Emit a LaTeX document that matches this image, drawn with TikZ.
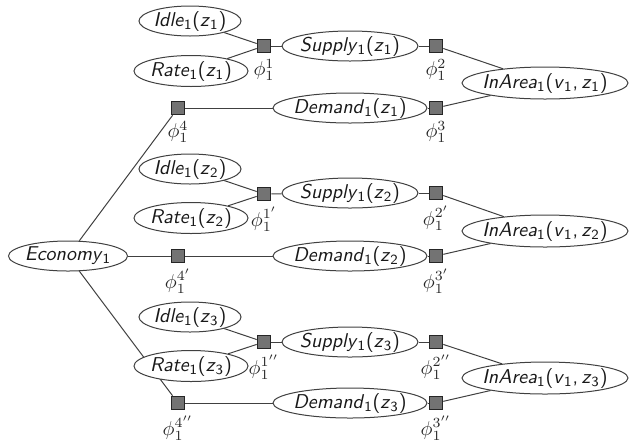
\documentclass[tikz,border=0pt]{standalone}
\usepackage{tikz}
\usetikzlibrary{shapes.geometric}
\newcommand{\sbs}[1]{\textsubscript{\upshape #1}}
\newcommand{\fnn}[2]{\textit{#1}\sbs{1}\textup{(}#2\textup{)}}
\newcommand{\zz}[1]{\textit{z}\sbs{#1}}
\newcommand{\vz}[1]{\textit{v}\sbs{1},\,\zz{#1}}
\begin{document}
\begin{tikzpicture}[x=0.5pt,y=-0.5pt,
  var/.style={ellipse,draw=black!75,fill=white,line width=0.5pt,inner sep=-4pt,font=\sffamily,text=black!90},
  fac/.style={rectangle,draw=black!85,fill=black!55,line width=0.5pt,minimum size=6.8pt,inner sep=0pt},
  edge/.style={draw=black!75,line width=0.5pt},
  flab/.style={label={[label distance=2.3pt,inner sep=0.5pt,text=black!85]below:#1}}]
\useasboundingbox (0,0) rectangle (630,440);
% Economy
\node[var,minimum width=59.5pt,minimum height=15pt] (eco) at (68,256) {\textit{Economy}\sbs{1}};
% Group 1
\node[var,minimum width=51pt,minimum height=15pt] (idle1) at (190,21) {\fnn{Idle}{\zz{1}}};
\node[var,minimum width=57pt,minimum height=15.5pt] (rate1) at (191,71) {\fnn{Rate}{\zz{1}}};
\node[fac,flab={$\phi_1^{1}$}] (f11) at (264,46) {};
\node[var,minimum width=68pt,minimum height=15pt] (sup1) at (350,46) {\fnn{Supply}{\zz{1}}};
\node[fac,flab={$\phi_1^{2}$}] (f21) at (436,46) {};
\node[var,minimum width=83pt,minimum height=16pt] (area1) at (545,83) {\fnn{InArea}{\vz{1}}};
\node[fac,flab={$\phi_1^{3}$}] (f31) at (436,108) {};
\node[var,minimum width=77pt,minimum height=15pt] (dem1) at (350,108) {\fnn{Demand}{\zz{1}}};
\node[fac,flab={$\phi_1^{4}$}] (f41) at (178,108) {};
% Group 2
\node[var,minimum width=51pt,minimum height=15pt] (idle2) at (190,169) {\fnn{Idle}{\zz{2}}};
\node[var,minimum width=57pt,minimum height=15.5pt] (rate2) at (191,218) {\fnn{Rate}{\zz{2}}};
\node[fac,flab={$\phi_1^{1'}$}] (f12) at (264,194) {};
\node[var,minimum width=68pt,minimum height=15pt] (sup2) at (350,193) {\fnn{Supply}{\zz{2}}};
\node[fac,flab={$\phi_1^{2'}$}] (f22) at (436,193) {};
\node[var,minimum width=83pt,minimum height=16pt] (area2) at (545,231) {\fnn{InArea}{\vz{2}}};
\node[fac,flab={$\phi_1^{3'}$}] (f32) at (436,256) {};
\node[var,minimum width=77pt,minimum height=15pt] (dem2) at (350,256) {\fnn{Demand}{\zz{2}}};
\node[fac,flab={$\phi_1^{4'}$}] (f42) at (178,256) {};
% Group 3
\node[var,minimum width=51pt,minimum height=15pt] (idle3) at (190,317) {\fnn{Idle}{\zz{3}}};
\node[fac,flab={$\phi_1^{1''}$}] (f13) at (264,342) {};
\node[var,minimum width=68pt,minimum height=15pt] (sup3) at (350,342) {\fnn{Supply}{\zz{3}}};
\node[fac,flab={$\phi_1^{2''}$}] (f23) at (436,342) {};
\node[var,minimum width=83pt,minimum height=16pt] (area3) at (545,378) {\fnn{InArea}{\vz{3}}};
\node[fac,flab={$\phi_1^{3''}$}] (f33) at (436,403) {};
\node[var,minimum width=77pt,minimum height=15pt] (dem3) at (350,403) {\fnn{Demand}{\zz{3}}};
\node[fac,flab={$\phi_1^{4''}$}] (f43) at (178,403) {};
% edges
\path[edge] (eco) -- (f43);
\node[var,minimum width=57pt,minimum height=15.5pt] (rate3) at (191,366) {\fnn{Rate}{\zz{3}}};
\path[edge] (eco) -- (f41);
\path[edge] (eco) -- (f42) -- (dem2);
\path[edge] (f41) -- (dem1);
\path[edge] (f43) -- (dem3);
\foreach \i in {1,2,3}{
  \path[edge] (idle\i) -- (f1\i);
  \path[edge] (rate\i) -- (f1\i);
  \path[edge] (f1\i) -- (sup\i);
  \path[edge] (sup\i) -- (f2\i);
  \path[edge] (f2\i) -- (area\i);
  \path[edge] (dem\i) -- (f3\i);
  \path[edge] (f3\i) -- (area\i);
}
\end{tikzpicture}
\end{document}
